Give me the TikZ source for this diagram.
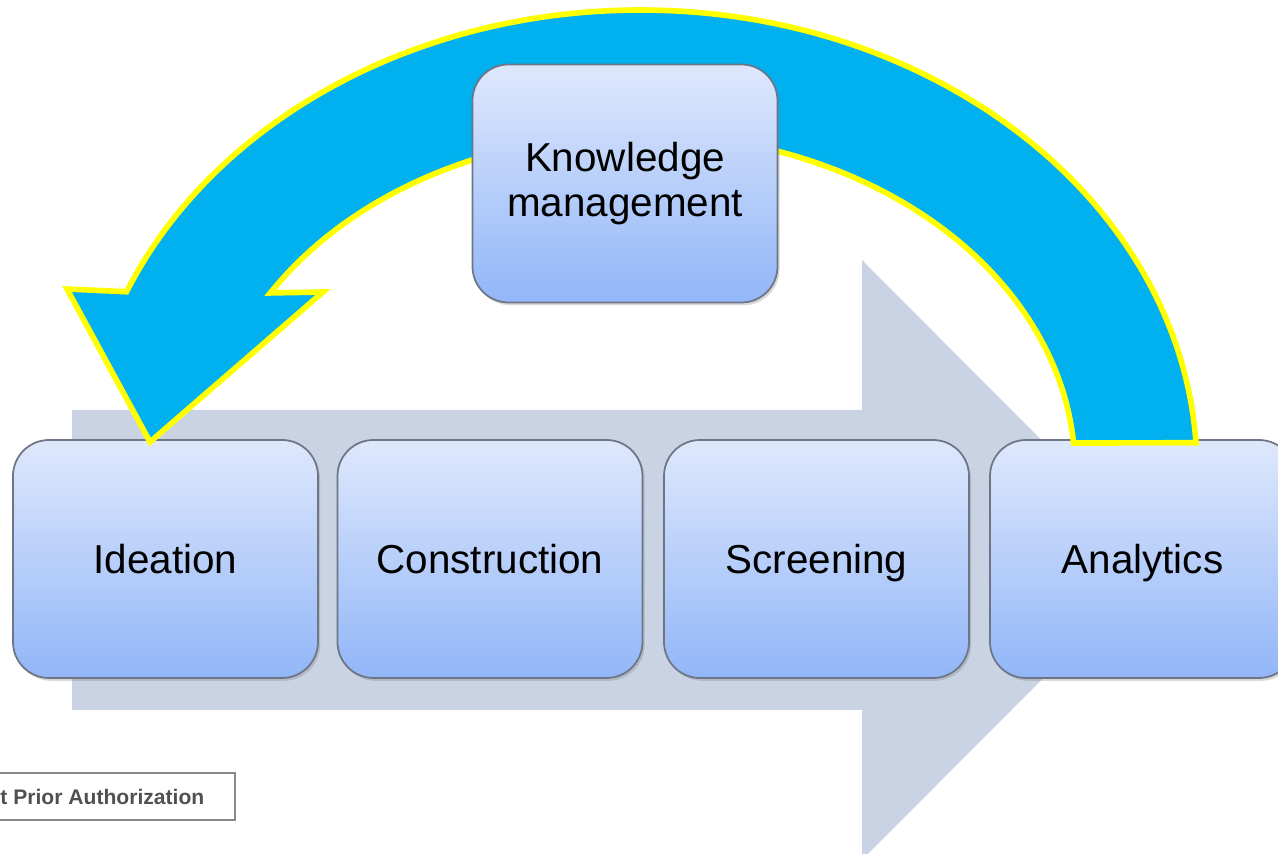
\documentclass[tikz,border=0pt]{standalone}
\usepackage{fontspec}
\setmainfont{Liberation Sans}
\usetikzlibrary{calc, shadows}

\definecolor{stageTop}{RGB}{222,232,252}
\definecolor{stageBottom}{RGB}{146,182,248}
\definecolor{stageEdge}{RGB}{110,118,134}
\definecolor{flowGray}{RGB}{201,211,228}
\definecolor{loopBlue}{RGB}{0,176,239}
\definecolor{loopRim}{RGB}{255,255,0}
\definecolor{noteEdge}{RGB}{136,136,136}
\definecolor{noteText}{RGB}{80,80,80}

\tikzset{
	stage/.style={rectangle, rounded corners=0.36cm, draw=stageEdge, line width=0.5pt,
		top color=stageTop, bottom color=stageBottom,
		minimum width=3.05cm, minimum height=2.38cm, align=center,
		font=\fontsize{11.5}{12.9}\selectfont,
		drop shadow={shadow xshift=0.6pt, shadow yshift=-0.8pt, opacity=0.3}},
	rowstage/.style={stage, text height=8.4pt, text depth=0.4pt},
}

\begin{document}
\begin{tikzpicture}
		\useasboundingbox (0, 0) rectangle (12.78, 8.54);
		% wide grey arrow behind the stages
		\fill[flowGray] (0.72, 4.44) -- (8.62, 4.44) -- (8.62, 5.94) -- (11.61, 2.94) -- (8.62, -0.06) -- (8.62, 1.44) -- (0.72, 1.44) -- cycle;
		% the four stages
		\node[rowstage] (ideation) at (1.655, 2.95) {Ideation};
		\node[rowstage] (construction) at (4.90, 2.95) {Construction};
		\node[rowstage] (screening) at (8.165, 2.95) {Screening};
		\node[rowstage] (analytics) at (11.425, 2.95) {Analytics};
		% feedback loop from analytics back to ideation
		\coordinate (hub) at (6.40, 3.84);
		\filldraw[fill=loopBlue, draw=loopRim, line width=1.6pt, line join=miter]
			($(hub) + (3.4:5.57 and 4.6)$) arc[start angle=3.4, end angle=157.2, x radius=5.57, y radius=4.6]
			-- (0.67, 5.65) -- (1.50, 4.12) -- (3.23, 5.62)
			-- ($(hub) + (148.2:4.35 and 3.36)$) arc[start angle=148.2, end angle=4.6, x radius=4.35, y radius=3.36]
			-- cycle;
		\node[stage] (knowledge) at (6.25, 6.705) {Knowledge\\management};
		% footer note
		\draw[noteEdge, line width=0.6pt] (-0.2, 0.34) rectangle (2.35, 0.81);
		\node[anchor=east, inner sep=0pt, text=noteText, font=\bfseries\fontsize{6}{7}\selectfont] (note) at (2.05, 0.575) {t Prior Authorization};
\end{tikzpicture}
\end{document}
